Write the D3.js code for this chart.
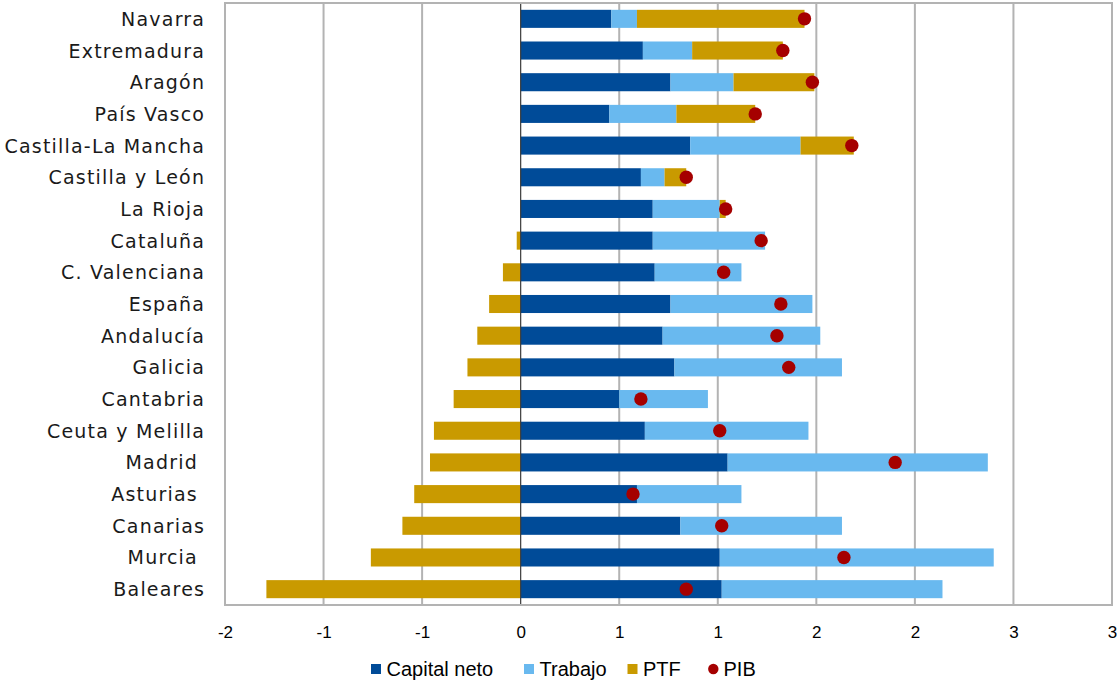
<!DOCTYPE html>
<html>
<head>
<meta charset="utf-8">
<script src="https://cdn.jsdelivr.net/npm/d3@7"></script>
<style>
  html, body { margin: 0; padding: 0; background: #fff; }
  svg { display: block; }
  .cat { white-space: pre; }
</style>
</head>
<body>
<svg id="chart" width="1117" height="680"></svg>
<script>
// Contribución al crecimiento del PIB por comunidad autónoma
const regions = ["Navarra", "Extremadura", "Aragón", "País Vasco", "Castilla-La Mancha",
  "Castilla y León", "La Rioja", "Cataluña", "C. Valenciana", "España", "Andalucía",
  "Galicia", "Cantabria", "Ceuta y Melilla", "Madrid ", "Asturias ", "Canarias",
  "Murcia ", "Baleares"];

const capitalNeto = [0.46, 0.62, 0.76, 0.45, 0.86, 0.61, 0.67, 0.67, 0.68, 0.76, 0.72,
  0.78, 0.50, 0.63, 1.05, 0.59, 0.81, 1.01, 1.02];
const trabajo = [0.13, 0.25, 0.32, 0.34, 0.56, 0.12, 0.34, 0.57, 0.44, 0.72, 0.80,
  0.85, 0.45, 0.83, 1.32, 0.53, 0.82, 1.39, 1.12];
const ptf = [0.85, 0.46, 0.41, 0.40, 0.27, 0.11, 0.03, -0.02, -0.09, -0.16, -0.22,
  -0.27, -0.34, -0.44, -0.46, -0.54, -0.60, -0.76, -1.29];
const pib = [1.44, 1.33, 1.48, 1.19, 1.68, 0.84, 1.04, 1.22, 1.03, 1.32, 1.30,
  1.36, 0.61, 1.01, 1.90, 0.57, 1.02, 1.64, 0.84];

const tickValues = [-1.5, -1, -0.5, 0, 0.5, 1, 1.5, 2, 2.5, 3];
const tickLabels = ["-2", "-1", "-1", "0", "1", "1", "2", "2", "3", "3"];

const seriesKeys = ["Capital neto", "Trabajo", "PTF"];
const seriesColors = ["#004B98", "#69B9EF", "#C99A00"];
const pibColor = "#A50000";

const rows = regions.map((r, i) => ({
  region: r,
  "Capital neto": capitalNeto[i],
  "Trabajo": trabajo[i],
  "PTF": ptf[i],
  pib: pib[i]
}));

const svg = d3.select("#chart");
const plot = { left: 225, right: 1112, top: 3, bottom: 605 };

const x = d3.scaleLinear().domain([-1.5, 3]).range([plot.left, plot.right]);
const y = d3.scaleBand().domain(regions).range([plot.top, plot.bottom])
  .paddingInner(0.43).paddingOuter(0.215);

// Vertical gridlines
svg.append("g").selectAll("line")
  .data(tickValues.filter(v => v !== 0 && v !== -1.5 && v !== 3))
  .join("line")
  .attr("x1", d => x(d)).attr("x2", d => x(d))
  .attr("y1", plot.top).attr("y2", plot.bottom)
  .attr("stroke", "#B3B3B3").attr("stroke-width", 2);

// Stacked contributions (negative PTF stacks to the left of zero)
const stacked = d3.stack().keys(seriesKeys).offset(d3.stackOffsetDiverging)(rows);

svg.append("g").selectAll("g")
  .data(stacked)
  .join("g")
  .attr("fill", (d, i) => seriesColors[i])
  .selectAll("rect")
  .data(d => d)
  .join("rect")
  .attr("x", d => x(Math.min(d[0], d[1])))
  .attr("width", d => Math.abs(x(d[1]) - x(d[0])))
  .attr("y", d => y(d.data.region))
  .attr("height", y.bandwidth());

// Zero line
svg.append("line")
  .attr("x1", x(0)).attr("x2", x(0))
  .attr("y1", plot.top).attr("y2", plot.bottom)
  .attr("stroke", "#3a3a3a").attr("stroke-width", 1.2);

// Plot frame
svg.append("rect")
  .attr("x", plot.left).attr("y", plot.top)
  .attr("width", plot.right - plot.left).attr("height", plot.bottom - plot.top)
  .attr("fill", "none").attr("stroke", "#B3B3B3").attr("stroke-width", 2);

// PIB markers
svg.append("g").selectAll("circle")
  .data(rows)
  .join("circle")
  .attr("cx", d => x(d.pib))
  .attr("cy", d => y(d.region) + y.bandwidth() / 2)
  .attr("r", 6.7)
  .attr("fill", pibColor);

// Category labels
svg.append("g").selectAll("text")
  .data(regions)
  .join("text")
  .attr("class", "cat")
  .attr("x", 205.2)
  .attr("y", d => y(d) + y.bandwidth() / 2 + 7)
  .attr("text-anchor", "end")
  .attr("font-family", "'DejaVu Sans', sans-serif")
  .attr("font-size", 19)
  .attr("letter-spacing", 1.2)
  .attr("fill", "#1a1a1a")
  .text(d => d);

// X axis labels
const xAxis = d3.axisBottom(x)
  .tickValues(tickValues)
  .tickFormat((d, i) => tickLabels[i])
  .tickSize(0)
  .tickPadding(21);

const axisG = svg.append("g")
  .attr("transform", `translate(0,${plot.bottom})`)
  .call(xAxis);
axisG.select(".domain").remove();
axisG.selectAll("text")
  .attr("font-family", "'Liberation Sans', Arial, sans-serif")
  .attr("font-size", 17)
  .attr("fill", "#000");

// Legend
const legendY = 669;
const legendItems = [
  { label: "Capital neto", color: seriesColors[0], shape: "rect", x: 371 },
  { label: "Trabajo", color: seriesColors[1], shape: "rect", x: 524 },
  { label: "PTF", color: seriesColors[2], shape: "rect", x: 627.5 },
  { label: "PIB", color: pibColor, shape: "circle", x: 708 }
];
const lg = svg.append("g").selectAll("g")
  .data(legendItems)
  .join("g")
  .attr("transform", d => `translate(${d.x},${legendY})`);
lg.filter(d => d.shape === "rect").append("rect")
  .attr("x", 0).attr("y", -5).attr("width", 10).attr("height", 10)
  .attr("fill", d => d.color);
lg.filter(d => d.shape === "circle").append("circle")
  .attr("cx", 5.3).attr("cy", 0).attr("r", 5.2)
  .attr("fill", d => d.color);
lg.append("text")
  .attr("x", 15.5)
  .attr("y", 6.5)
  .attr("font-family", "'Liberation Sans', Arial, sans-serif")
  .attr("font-size", 20)
  .attr("fill", "#000")
  .text(d => d.label);
</script>
</body>
</html>
